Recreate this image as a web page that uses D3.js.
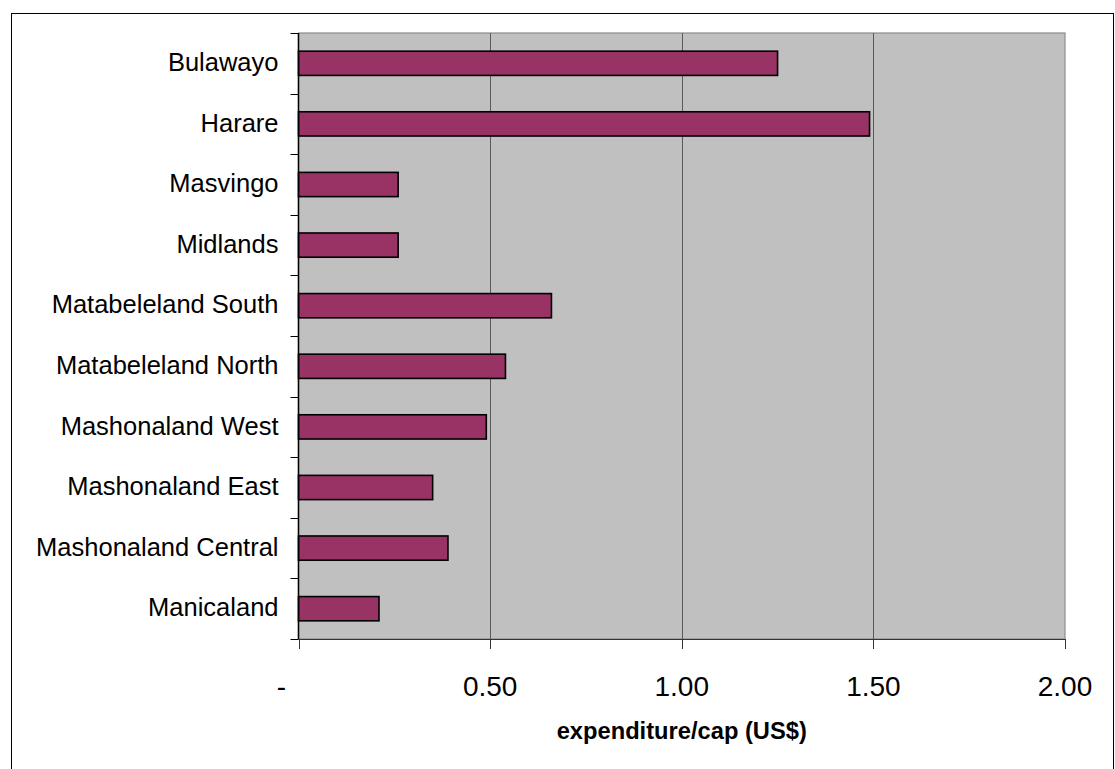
<!DOCTYPE html>
<html>
<head>
<meta charset="utf-8">
<script src="https://cdn.jsdelivr.net/npm/d3@7"></script>
<style>
  html, body { margin: 0; padding: 0; background: #ffffff; }
  svg { display: block; }
</style>
</head>
<body>
<svg id="chart" width="1115" height="769"></svg>
<script>
// Data (top-level arrays)
const categories = ["Bulawayo", "Harare", "Masvingo", "Midlands", "Matabeleland South",
  "Matabeleland North", "Mashonaland West", "Mashonaland East", "Mashonaland Central", "Manicaland"];
const values = [1.25, 1.49, 0.26, 0.26, 0.66, 0.54, 0.49, 0.35, 0.39, 0.21];
const xTickValues = [0, 0.5, 1.0, 1.5, 2.0];
const xTickLabels = ["-", "0.50", "1.00", "1.50", "2.00"];
const xAxisTitle = "expenditure/cap (US$)";

const svg = d3.select("#chart");
const font = "'Liberation Sans', Arial, sans-serif";

const plot = { left: 298.5, right: 1065, top: 33, bottom: 639 };

// outer chart frame
svg.append("rect")
  .attr("x", 11.5).attr("y", 13.5)
  .attr("width", 1102).attr("height", 800)
  .attr("fill", "#ffffff").attr("stroke", "#000").attr("stroke-width", 1);

const x = d3.scaleLinear().domain([0, 2]).range([plot.left, plot.right]);
const y = d3.scaleBand().domain(categories).range([plot.top, plot.bottom])
  .paddingInner(0.6).paddingOuter(0.3);

// plot area background
svg.append("rect")
  .attr("x", plot.left).attr("y", plot.top)
  .attr("width", plot.right - plot.left).attr("height", plot.bottom - plot.top)
  .attr("fill", "#c0c0c0").attr("stroke", "#8c8c8c").attr("stroke-width", 1.2);

// gridlines
svg.append("g").selectAll("line")
  .data(xTickValues.filter(v => v > 0 && v < 2))
  .join("line")
  .attr("x1", d => Math.round(x(d)) + 0.5).attr("x2", d => Math.round(x(d)) + 0.5)
  .attr("y1", plot.top).attr("y2", plot.bottom)
  .attr("stroke", "#5a5a5a").attr("stroke-width", 1);

// bars
svg.append("g").selectAll("rect")
  .data(categories.map((c, i) => ({ c, v: values[i] })))
  .join("rect")
  .attr("x", x(0))
  .attr("y", d => y(d.c))
  .attr("width", d => x(d.v) - x(0))
  .attr("height", y.bandwidth())
  .attr("fill", "#993366")
  .attr("stroke", "#000").attr("stroke-width", 1.6);

// Y axis
const yAxisG = svg.append("g");
yAxisG.append("line")
  .attr("x1", plot.left).attr("x2", plot.left)
  .attr("y1", plot.top).attr("y2", plot.bottom)
  .attr("stroke", "#000").attr("stroke-width", 1.5);
const step = y.step();
const boundaries = d3.range(categories.length + 1).map(i => plot.top + i * step);
yAxisG.selectAll("line.tick")
  .data(boundaries)
  .join("line").attr("class", "tick")
  .attr("x1", plot.left - 8).attr("x2", plot.left)
  .attr("y1", d => Math.round(d) + 0.5).attr("y2", d => Math.round(d) + 0.5)
  .attr("stroke", "#000").attr("stroke-width", 1);
yAxisG.selectAll("text")
  .data(categories)
  .join("text")
  .attr("x", plot.left - 20)
  .attr("y", d => y(d) + y.bandwidth() / 2)
  .attr("dy", "0.3em")
  .attr("text-anchor", "end")
  .attr("font-family", font)
  .attr("font-size", "25.5px")
  .attr("fill", "#000")
  .text(d => d);

// X axis
const xAxisG = svg.append("g");
xAxisG.append("line")
  .attr("x1", plot.left).attr("x2", plot.right)
  .attr("y1", plot.bottom + 0.5).attr("y2", plot.bottom + 0.5)
  .attr("stroke", "#333").attr("stroke-width", 1.2);
xAxisG.selectAll("line.tick")
  .data(xTickValues)
  .join("line").attr("class", "tick")
  .attr("x1", d => Math.round(x(d)) + 0.5).attr("x2", d => Math.round(x(d)) + 0.5)
  .attr("y1", plot.bottom).attr("y2", plot.bottom + 10)
  .attr("stroke", "#333").attr("stroke-width", 1);
xAxisG.selectAll("text")
  .data(xTickValues)
  .join("text")
  .attr("x", d => x(d) + (d === 0 ? -17 : 0))
  .attr("y", 696)
  .attr("text-anchor", "middle")
  .attr("font-family", font)
  .attr("font-size", "28px")
  .attr("fill", "#000")
  .text((d, i) => xTickLabels[i]);

svg.append("text")
  .attr("x", (plot.left + plot.right) / 2)
  .attr("y", 739)
  .attr("text-anchor", "middle")
  .attr("font-family", font)
  .attr("font-weight", "bold")
  .attr("font-size", "23.7px")
  .attr("fill", "#000")
  .text(xAxisTitle);
</script>
</body>
</html>
